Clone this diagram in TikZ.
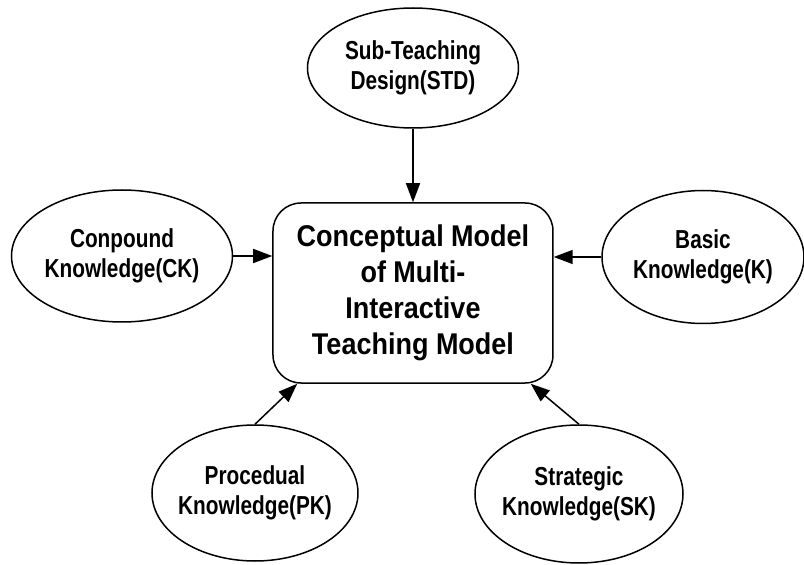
\documentclass[tikz,border=0pt]{standalone}
\usepackage{fontspec}
\setmainfont{Liberation Sans}[FakeStretch=0.9]
\newfontfamily\knowfont{Liberation Sans}[FakeStretch=0.8]
\usetikzlibrary{shapes.geometric,positioning,arrows.meta}

\tikzset{
  know/.style={ellipse,draw,line width=1.5pt,inner xsep=-20pt,inner ysep=0pt,align=center,
    font=\knowfont\bfseries\fontsize{26}{30}\selectfont},
  core/.style={rectangle,draw,line width=1.5pt,rounded corners=28pt,align=center,
    minimum width=280pt,minimum height=180pt,inner sep=0pt,
    font=\bfseries\fontsize{30}{36}\selectfont},
}

\begin{document}
\begin{tikzpicture}[>={Triangle[length=19pt,width=14pt]},on grid,line width=1.5pt]
    \useasboundingbox (-413pt,-272pt) rectangle (391pt,293pt);

    \node[core] (model) {Conceptual Model\\of Multi-\\Interactive\\Teaching Model};
    \node[know,minimum width=211pt,minimum height=120pt] (std) [above=225pt of model] {Sub-Teaching\\Design(STD)};
    \node[know,minimum width=221pt,minimum height=132pt] (ck) [left=291pt of model,yshift=37pt] {Conpound\\Knowledge(CK)};
    \node[know,minimum width=202pt,minimum height=133pt] (bk) [right=290pt of model,yshift=36pt] {Basic\\Knowledge(K)};
    \node[know,minimum width=206pt,minimum height=136pt] (pk) [below left=200pt and 158pt of model] {Procedual\\Knowledge(PK)};
    \node[know,minimum width=208pt,minimum height=138pt] (sk) [below right=201pt and 166pt of model] {Strategic\\Knowledge(SK)};

    \path[->] (std) edge (model)
              (ck.east) edge (ck.east -| model.west)
              (bk.west) edge (bk.west -| model.east)
              (pk.north) edge ([xshift=25pt]model.south west)
              (sk.north) edge ([xshift=-23pt]model.south east);
\end{tikzpicture}
\end{document}
